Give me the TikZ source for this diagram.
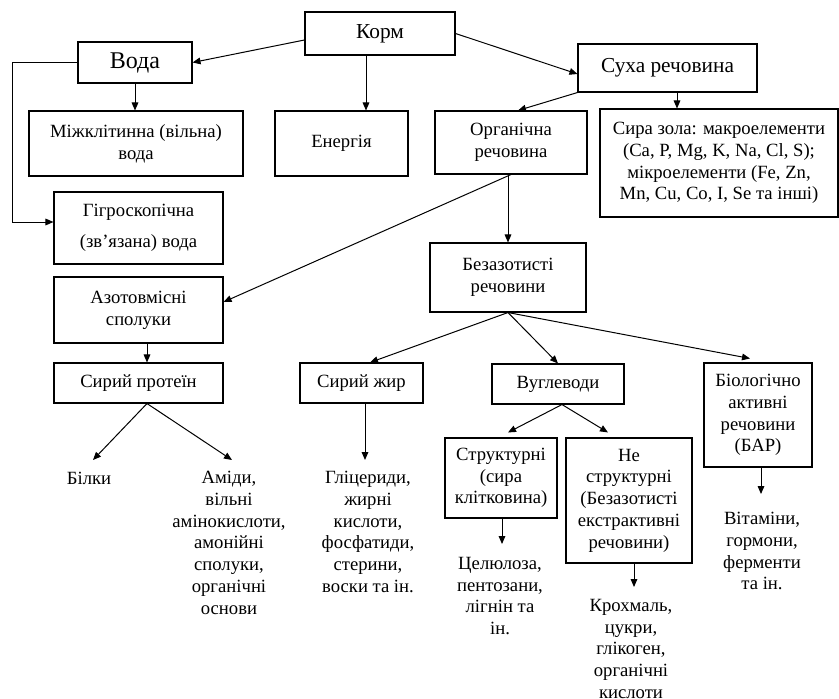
\documentclass[tikz,border=0pt]{standalone}
\usepackage{fontspec}
\setmainfont{Liberation Serif}
\usetikzlibrary{arrows.meta,calc}
\begin{document}
\begin{tikzpicture}[x=0.75pt,y=-0.75pt,
  bx/.style 2 args={draw, line width=0.8pt, align=center, inner sep=0pt, minimum width=#1*0.75pt, minimum height=#2*0.75pt, font=\fontsize{14pt}{16.3pt}\selectfont},
  txt/.style={align=center, inner sep=0pt, anchor=north, font=\fontsize{14pt}{16.3pt}\selectfont},
  arr/.style={line width=0.75pt, -{Triangle[length=6pt,width=5pt]}},
  big/.style={font=\fontsize{16pt}{18pt}\selectfont},
]
\useasboundingbox (0,0) rectangle (839,699);

\node[bx={150}{43},big] (korm) at (380,33.5) {Корм};
\node[bx={114}{41},font=\fontsize{18pt}{20pt}\selectfont] (voda) at (135,62.5) {Вода};
\node[bx={214}{65}] (mizh) at (136,143.5) {Міжклітинна (вільна)\\вода};
\node[bx={133}{65}] (energ) at (341.5,143.5) {Енергія};
\node[bx={169}{72},font=\fontsize{14pt}{23.25pt}\selectfont] (gigro) at (138.5,228) {Гігроскопічна\\(зв’язана) вода};
\node[bx={179}{48},big] (suha) at (667.5,68) {Суха речовина};
\node[bx={152}{63}] (org) at (511,142.5) {Органічна\\речовина};
\node[bx={238}{108}] (zola) at (719,163) {Сира зола: макроелементи\\(Ca, P, Mg, K, Na, Cl, S);\\мікроелементи (Fe, Zn,\\Mn, Cu, Co, I, Se та інші)};
\node[bx={169}{66}] (azot) at (138.5,310) {Азотовмісні\\сполуки};
\node[bx={156}{69}] (bez) at (508,277.5) {Безазотисті\\речовини};
\node[bx={169}{40}] (prot) at (138.5,383) {Сирий протеїн};
\node[bx={123}{40}] (zhyr) at (361.5,383) {Сирий жир};
\node[bx={132}{40}] (vugl) at (558,384) {Вуглеводи};
\node[bx={108}{104}] (bar) at (758,415) {Біологічно\\активні\\речовини\\(БАР)};
\node[bx={112}{80}] (struct) at (501,478) {Структурні\\(сира\\клітковина)};
\node[bx={126}{125}] (nestr) at (629,500.5) {Не\\структурні\\(Безазотисті\\екстрактивні\\речовини)};

\node[txt] (bilky) at (89,472) {Білки};
\node[txt] (amidy) at (229,471) {Аміди,\\вільні\\амінокислоти,\\амонійні\\сполуки,\\органічні\\основи};
\node[txt] (glic) at (368,471) {Гліцериди,\\жирні\\кислоти,\\фосфатиди,\\стерини,\\воски та ін.};
\node[txt] (cel) at (500,557) {Целюлоза,\\пентозани,\\лігнін та\\ін.};
\node[txt] (kroh) at (631,599) {Крохмаль,\\цукри,\\глікоген,\\органічні\\кислоти};
\node[txt] (vitam) at (762,512) {Вітаміни,\\гормони,\\ферменти\\та ін.};

\draw[arr] ($(korm.west)+(0,6.5)$) -- (voda.east);
\draw[arr] (korm.east) -- ($(suha.west)+(0,6)$);
\coordinate (k1) at ($(korm.south)+(-14,0)$);
\draw[arr] (k1) -- (k1 |- energ.north);
\draw[arr] (voda.south) -- (voda.south |- mizh.north);
\draw[arr] (voda.west) -- ++(-65,0) |- ($(gigro.west)+(0,-6)$);
\draw[arr] (suha.south west) -- ($(org.north)+(7,0)$);
\coordinate (s1) at ($(suha.south)+(9.5,0)$);
\draw[arr] (s1) -- (s1 |- zola.north);
\draw[arr] (org.south) -- ($(azot.east)+(0,-8)$);
\draw[arr] (bez.north |- org.south) -- (bez.north);
\draw[arr] (bez.south) -- ($(zhyr.north)+(8.5,0)$);
\draw[arr] (bez.south) -- (vugl.north);
\draw[arr] (bez.south) -- ($(bar.north)+(-8,-4)$);
\coordinate (v1) at ($(vugl.south)+(4,0)$);
\draw[arr] (v1) -- ($(struct.north)+(7,-5)$);
\draw[arr] (v1) -- ($(nestr.north)+(-21,-5)$);
\coordinate (a1) at ($(azot.south)+(8.5,0)$);
\draw[arr] (a1) -- (a1 |- prot.north);
\coordinate (p1) at ($(prot.south)+(8.5,0)$);
\draw[arr] (p1) -- ($(bilky.north)+(4,-12)$);
\draw[arr] (p1) -- ($(amidy.north)+(3,-11)$);
\coordinate (z1) at ($(zhyr.south)+(3.5,0)$);
\coordinate (g1) at ($(glic.north)+(0,-11)$);
\draw[arr] (z1) -- (z1 |- g1);
\coordinate (c0) at ($(struct.south)+(1,0)$);
\coordinate (c1) at ($(cel.north)+(0,-13)$);
\draw[arr] (c0) -- (c0 |- c1);
\coordinate (n0) at ($(nestr.south)+(5,0)$);
\coordinate (n1) at ($(kroh.north)+(0,-12)$);
\draw[arr] (n0) -- (n0 |- n1);
\coordinate (b0) at ($(bar.south)+(3,0)$);
\coordinate (b1) at ($(vitam.north)+(0,-18)$);
\draw[arr] (b0) -- (b0 |- b1);
\end{tikzpicture}
\end{document}
